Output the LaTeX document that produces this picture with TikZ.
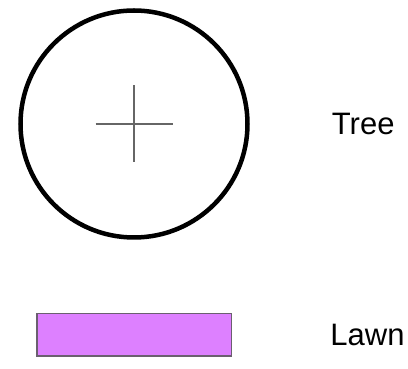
\documentclass[tikz,border=0pt]{standalone}
\usepackage{fontspec}
\setmainfont{Liberation Sans}
\usetikzlibrary{positioning}

\definecolor{lawnfill}{HTML}{DD80FF}
\definecolor{lawnedge}{HTML}{6B5F70}
\definecolor{crossgray}{HTML}{666666}

\begin{document}
\begin{tikzpicture}[
    x=1pt, y=1pt,
    treesym/.style={draw=black, circle, line width=4.5pt, minimum size=227pt, inner sep=0pt},
    crossline/.style={draw=crossgray, line width=1.5pt},
    lawnsym/.style={draw=lawnedge, fill=lawnfill, rectangle, line width=1.5pt, minimum width=194.5pt, minimum height=42.5pt, inner sep=0pt},
    legendtext/.style={font=\fontsize{31}{36}\selectfont, inner sep=0pt, anchor=west}
]
    \useasboundingbox (0,0) rectangle (408,369);

    % Tree symbol
    \node[treesym] (tree) at (134,245) {};
    \draw[crossline] ([xshift=-38.5pt]tree.center) -- ([xshift=38.5pt]tree.center);
    \draw[crossline] ([yshift=38.5pt]tree.center) -- ([yshift=-38.5pt]tree.center);
    \node[legendtext, right=82pt of tree] (treelabel) {Tree};

    % Lawn symbol
    \node[lawnsym] (lawn) at (134.25,34.25) {};
    \node[legendtext, right=98pt of lawn] (lawnlabel) {Lawn};
\end{tikzpicture}
\end{document}
